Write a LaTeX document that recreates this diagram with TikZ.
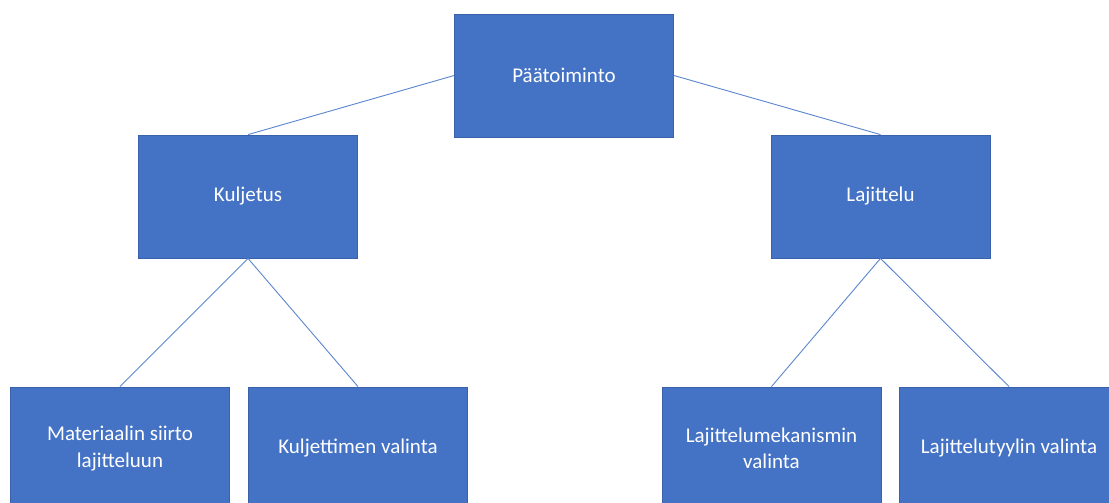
\documentclass[tikz,border=0pt]{standalone}
\usepackage{fontspec}
\setmainfont{Carlito}
\definecolor{boxfill}{HTML}{4472C4}
\definecolor{boxline}{HTML}{3A62AA}
\definecolor{conn}{HTML}{5B86D0}
\begin{document}
\begin{tikzpicture}[x=1pt,y=-1pt,
  box/.style={draw=boxline,line width=0.8pt,fill=boxfill,text=white,minimum width=219pt,minimum height=123pt,inner sep=0pt,align=center,font=\fontsize{21}{26.5}\selectfont},
  conn/.style={draw=conn,line width=0.9pt}]
\clip (0,0) rectangle (1109,503);
\fill[white] (0,0) rectangle (1109,503);
\node[box] (top) at (564,75.5) {Päätoiminto};
\node[box] (kul) at (248,196.5) {Kuljetus};
\node[box] (laj) at (880.5,196.5) {Lajittelu};
\node[box] (mat) at (120,448.5) {Materiaalin siirto\\lajitteluun};
\node[box] (kva) at (358,448.5) {Kuljettimen valinta};
\node[box] (lme) at (771.5,448.5) {Lajittelumekanismin\\valinta};
\node[box] (lty) at (1009,448.5) {Lajittelutyylin valinta};
\draw[conn] (top.west) -- (kul.north);
\draw[conn] (top.east) -- (laj.north);
\draw[conn] (kul.south) -- (mat.north);
\draw[conn] (kul.south) -- (kva.north);
\draw[conn] (laj.south) -- (lme.north);
\draw[conn] (laj.south) -- (lty.north);
\end{tikzpicture}
\end{document}
